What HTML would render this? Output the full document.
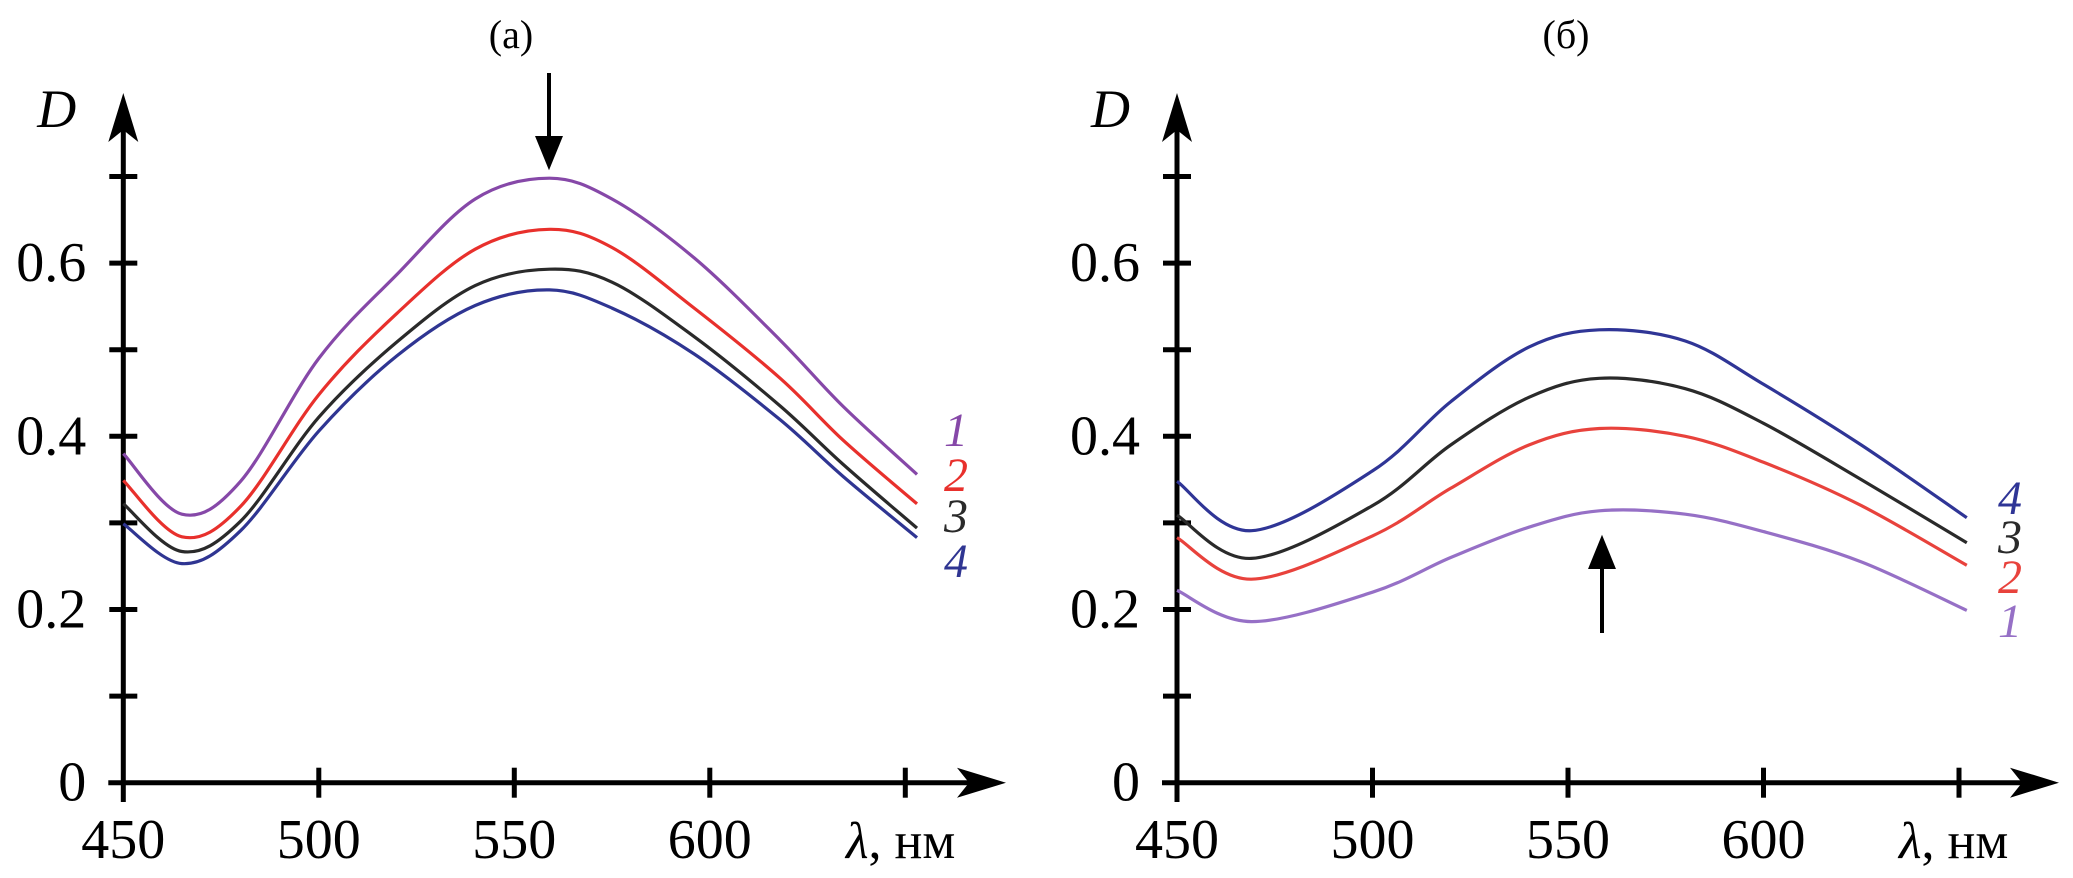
<!DOCTYPE html>
<html><head><meta charset="utf-8"><style>
html,body{margin:0;padding:0;background:#fff;}
svg{display:block;}
text{font-family:"Liberation Serif","DejaVu Serif",serif;}
</style></head><body>
<svg id="chart" width="2073" height="878" viewBox="0 0 2073 878" xmlns="http://www.w3.org/2000/svg" font-family="Liberation Serif, DejaVu Serif, serif"></svg>
<script>
// ---- data ----
const wlA = [450,465,480,500,520,540,559,575,596,618,634,653];
const a1 = [0.380,0.310,0.348,0.490,0.587,0.674,0.698,0.674,0.606,0.511,0.435,0.356];
const a2 = [0.349,0.284,0.319,0.448,0.542,0.616,0.639,0.618,0.548,0.467,0.396,0.322];
const a3 = [0.322,0.267,0.302,0.422,0.509,0.574,0.593,0.578,0.515,0.435,0.368,0.294];
const a4 = [0.299,0.253,0.291,0.406,0.493,0.551,0.569,0.548,0.495,0.419,0.354,0.283];
const wlB = [450,469,500,520,540,558,580,600,625,652];
const b1 = [0.222,0.186,0.220,0.260,0.295,0.314,0.310,0.290,0.255,0.199];
const b2 = [0.283,0.235,0.285,0.340,0.390,0.409,0.400,0.370,0.320,0.251];
const b3 = [0.309,0.259,0.320,0.390,0.445,0.467,0.455,0.415,0.350,0.277];
const b4 = [0.348,0.291,0.360,0.440,0.503,0.523,0.510,0.460,0.390,0.306];
const xTicks = [450,500,550,600,650];
const xTickLabels = ["450","500","550","600"];
const yTicks = [0.1,0.2,0.3,0.4,0.5,0.6,0.7];
const yTickLabels = ["0","0.2","0.4","0.6"];
const yLabelVals = [0,0.2,0.4,0.6];

const NS="http://www.w3.org/2000/svg";
const svg=document.getElementById('chart');
const FONT='Liberation Serif, DejaVu Serif, serif';
function el(tag,attrs,parent){const e=document.createElementNS(NS,tag);for(const k in attrs)e.setAttribute(k,attrs[k]);if(tag==='text')e.setAttribute('font-family',FONT);(parent||svg).appendChild(e);return e;}
const Y0=782.7, YS=866, XS=3.91;
function yS(v){return Y0-v*YS;}
function catmull(pts){
  let d="M"+pts[0][0].toFixed(1)+","+pts[0][1].toFixed(1);
  for(let i=0;i<pts.length-1;i++){
    const p0=pts[Math.max(0,i-1)],p1=pts[i],p2=pts[i+1],p3=pts[Math.min(pts.length-1,i+2)];
    const c1=[p1[0]+(p2[0]-p0[0])/6,p1[1]+(p2[1]-p0[1])/6];
    const c2=[p2[0]-(p3[0]-p1[0])/6,p2[1]-(p3[1]-p1[1])/6];
    d+=" C"+c1[0].toFixed(1)+","+c1[1].toFixed(1)+" "+c2[0].toFixed(1)+","+c2[1].toFixed(1)+" "+p2[0].toFixed(1)+","+p2[1].toFixed(1);
  }
  return d;
}
function panel(id,ox,arrowEnd,title,titleX,wl,series,colors,labelNums,labelYs,labelX){
  const g=el('g',{});
  
  
  const xS=v=>ox+(v-450)*XS;
  const ya=el('line',{x1:ox,y1:802,x2:ox,y2:130,stroke:'#000','stroke-width':5},g);
  
  
  const yh=el('path',{d:`M${ox},93 L${ox+15},142 L${ox},130 L${ox-15},142 Z`,fill:'#000'},g);
  
  
  const xa=el('line',{x1:ox-15,y1:Y0,x2:arrowEnd-35,y2:Y0,stroke:'#000','stroke-width':5},g);
  
  
  const xh=el('path',{d:`M${arrowEnd},${Y0} L${arrowEnd-49},${Y0-15} L${arrowEnd-37},${Y0} L${arrowEnd-49},${Y0+15} Z`,fill:'#000'},g);
  
  
  yTicks.forEach(v=>{const t=el('line',{x1:ox-14,x2:ox+14,y1:yS(v),y2:yS(v),stroke:'#000','stroke-width':5},g);
    
    });
  xTicks.forEach(v=>{if(v===450)return;const t=el('line',{x1:xS(v),x2:xS(v),y1:Y0-15,y2:Y0+15,stroke:'#000','stroke-width':5},g);
    
    });
  xTickLabels.forEach((s,i)=>{const t=el('text',{x:xS(xTicks[i]),y:858,'font-size':56,'text-anchor':'middle'},g);t.textContent=s;
    
    });
  yTickLabels.forEach((s,i)=>{const t=el('text',{x:ox-37,y:yS(yLabelVals[i])+18,'font-size':56,'text-anchor':'end'},g);t.textContent=s;
    
    });
  const d=el('text',{x:ox-86,y:127,'font-size':54,'font-style':'italic'},g);d.textContent='D';
  
  
  const xl=el('text',{x:arrowEnd-160,y:858,'font-size':52},g);
  xl.innerHTML='<tspan font-style="italic">λ</tspan>, нм';
  
  
  const tt=el('text',{x:titleX,y:48,'font-size':40,'text-anchor':'middle'},g);tt.textContent=title;
  
  
  series.forEach((s,i)=>{
    const p=el('path',{d:catmull(wl.map((w,j)=>[xS(w),yS(s[j])])),fill:'none',stroke:colors[i],'stroke-width':3.2},g);
    
    
    const l=el('text',{x:labelX,y:labelYs[i]+16,'font-size':48,'font-style':'italic',fill:colors[i]},g);
    l.textContent=labelNums[i];
    
    
  });
  return {g,xS};
}
panel('panel-a',123.3,1006,'(a)',511,wlA,[a1,a2,a3,a4],['#8648a8','#e8302c','#2a2a2a','#2f3592'],['1','2','3','4'],[430,475,516,561],944);
panel('panel-b',1177,2059,'(б)',1566,wlB,[b1,b2,b3,b4],['#9670c6','#e8423c','#2a2a2a','#2f3596'],['1','2','3','4'],[621,577,537,498],1998);
const da=el('path',{d:'M549,73 L549,150 M538,138 L549,165 L560,138 Z',stroke:'#000','stroke-width':4,fill:'#000'});


const ua=el('path',{d:'M1602,633 L1602,555 M1591,567 L1602,540 L1613,567 Z',stroke:'#000','stroke-width':4,fill:'#000'});


</script>
</body></html>
